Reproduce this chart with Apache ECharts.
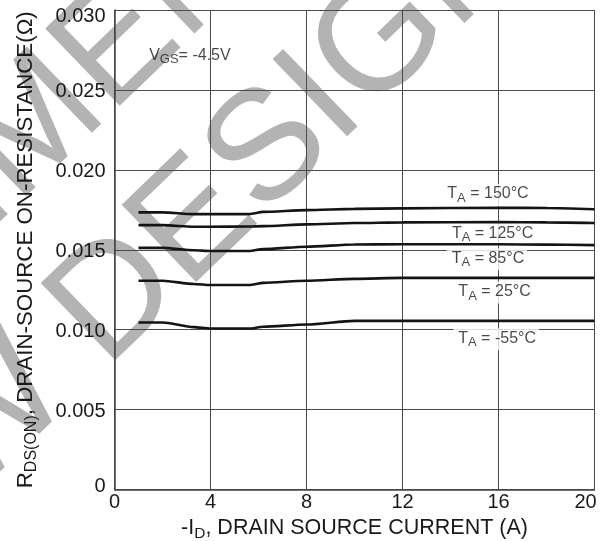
<!DOCTYPE html>
<html>
<head>
<meta charset="utf-8">
<script src="https://cdn.jsdelivr.net/npm/echarts@6/dist/echarts.min.js"></script>
<style>
html,body{margin:0;padding:0;background:#fff;}
#chart{width:610px;height:541px;}
</style>
</head>
<body>
<div id="chart"></div>
<script>
// ---- data ----
const currentA = [1, 2, 3.3, 4, 5.6, 6.2, 8, 10, 12, 16, 18, 20];
const r150 = [0.01734, 0.01734, 0.01723, 0.01723, 0.01723, 0.01737, 0.01748, 0.01756, 0.01759, 0.01763, 0.01761, 0.01753];
const r125 = [0.01654, 0.01654, 0.01644, 0.01644, 0.01645, 0.01648, 0.01659, 0.01667, 0.01671, 0.01673, 0.01671, 0.01667];
const r85  = [0.01512, 0.01512, 0.01497, 0.01492, 0.01492, 0.01504, 0.01519, 0.01533, 0.01534, 0.01534, 0.01532, 0.01529];
const r25  = [0.01306, 0.01306, 0.01286, 0.01279, 0.01279, 0.01293, 0.01306, 0.01318, 0.01324, 0.01324, 0.01324, 0.01324];
const rm55 = [0.01045, 0.01045, 0.01016, 0.01007, 0.01007, 0.01018, 0.01032, 0.01055, 0.01055, 0.01055, 0.01055, 0.01055];
const tempLabels = ['150', '125', '85', '25', '-55'];
const xTickLabels = ['0', '4', '8', '12', '16', '20'];
const yTickLabels = ['0', '0.005', '0.010', '0.015', '0.020', '0.025', '0.030'];

const FONT = '"Liberation Sans", Arial, Helvetica, sans-serif';
const curves = [r150, r125, r85, r25, rm55];

const chart = echarts.init(document.getElementById('chart'), null, {renderer: 'canvas'});

const lineSeries = curves.map((vals, k) => ({
  type: 'line',
  name: 'TA = ' + tempLabels[k] + '°C',
  data: currentA.map((x, i) => [x, vals[i]]),
  showSymbol: false,
  symbol: 'none',
  smooth: 0.25,
  smoothMonotone: 'x',
  lineStyle: {color: '#141414', width: 2.6},
  z: 4,
  silent: true
}));

// label anchor points (chart coordinates)
const anchorX = [15.52, 15.71, 15.52, 15.795, 15.90];
const anchorY = [0.018429, 0.015970, 0.014406, 0.012322, 0.009400];

const labelRich = {
  m: {fontSize: 16, fontFamily: FONT, color: '#1a1a1a', lineHeight: 16, verticalAlign: 'top'},
  s: {fontSize: 13, fontFamily: FONT, color: '#1a1a1a', verticalAlign: 'top', padding: [6, 0, 0, 0]}
};

const annoSeries = {
  type: 'scatter',
  symbolSize: 0,
  z: 3,
  silent: true,
  data: tempLabels.map((t, i) => ({name: t, value: [anchorX[i], anchorY[i]]})),
  label: {
    show: true,
    position: 'inside',
    formatter: p => '{m|T}{s|A}{m| = ' + p.name + '°C}',
    backgroundColor: '#ffffff',
    padding: [2, 3, 1, 5],
    rich: labelRich
  }
};

const vgsSeries = {
  type: 'scatter',
  symbolSize: 0,
  z: 3,
  silent: true,
  data: [{name: '-4.5V', value: [3.10, 0.027106]}],
  label: {
    show: true,
    position: 'inside',
    formatter: p => '{m|V}{s|GS}{m|= ' + p.name + '}',
    padding: [2, 3, 1, 5],
    rich: labelRich
  }
};

const xTitleRich = {
  m: {fontSize: 21.5, fontFamily: FONT, color: '#1a1a1a', verticalAlign: 'middle'},
  s: {fontSize: 15.5, fontFamily: FONT, color: '#1a1a1a', verticalAlign: 'middle', padding: [11, 0, 0, 0]}
};
const yTitleRich = {
  m: {fontSize: 22.3, fontFamily: FONT, color: '#1a1a1a', verticalAlign: 'middle'},
  s: {fontSize: 16, fontFamily: FONT, color: '#1a1a1a', verticalAlign: 'middle', padding: [12, 0, 0, 0]}
};

const tickRich = {
  n: {fontSize: 20, fontFamily: FONT, color: '#1a1a1a', padding: [4, 0, 0, 0]},
  hi: {fontSize: 20, fontFamily: FONT, color: '#1a1a1a', padding: [13, 0, 0, 0]},
  lo: {fontSize: 20, fontFamily: FONT, color: '#1a1a1a', padding: [0, 0, 7, 0]},
  xn: {fontSize: 20, fontFamily: FONT, color: '#1a1a1a'},
  r: {fontSize: 20, fontFamily: FONT, color: '#1a1a1a', padding: [0, 18, 0, 0]}
};

const WM = '#b3b3b3';
const rot = 44 * Math.PI / 180;
const wmFont = 'normal 156px ' + FONT;

const option = {
  backgroundColor: '#ffffff',
  animation: false,
  grid: {left: 114.5, right: 15.5, top: 10, bottom: 51.5, containLabel: false, outerBoundsMode: 'none'},
  graphic: {
    z: -10,
    elements: [
      {type: 'text', x: 76.2, y: 338.2, rotation: rot, silent: true,
        style: {text: 'DESIGN', font: wmFont, fill: WM, align: 'left', verticalAlign: 'middle'}},
      {type: 'text', x: 76.2, y: 338.2, rotation: rot, silent: true,
        style: {text: 'FOR NEW ', font: wmFont, fill: WM, align: 'right', verticalAlign: 'middle'}},
      {type: 'text', x: -12.9, y: 174, rotation: rot, silent: true,
        style: {text: 'MENDED', font: wmFont, fill: WM, align: 'left', verticalAlign: 'middle'}},
      {type: 'text', x: -12.9, y: 174, rotation: rot, silent: true,
        style: {text: 'NOT RECOM', font: wmFont, fill: WM, align: 'right', verticalAlign: 'middle'}}
    ]
  },
  xAxis: {
    type: 'value',
    min: 0, max: 20, interval: 4,
    name: '{m|-I}{s|D}{m|, DRAIN SOURCE CURRENT (A)}',
    nameLocation: 'middle',
    nameGap: 16.5,
    nameTextStyle: {rich: xTitleRich},
    axisLine: {show: true, lineStyle: {color: '#444', width: 1.5}},
    axisTick: {show: false},
    splitLine: {show: true, lineStyle: {color: '#4a4a4a', width: 1}},
    axisLabel: {
      margin: 3,
      formatter: (v) => {
        const idx = Math.round(v / 4);
        const t = xTickLabels[idx];
        return idx === xTickLabels.length - 1 ? '{r|' + t + '}' : '{xn|' + t + '}';
      },
      rich: tickRich
    }
  },
  yAxis: {
    type: 'value',
    min: 0, max: 0.03, interval: 0.005,
    name: '{m|R}{s|DS(ON)}{m|, DRAIN-SOURCE ON-RESISTANCE(Ω)}',
    nameLocation: 'middle',
    nameGap: 74.75,
    nameTextStyle: {rich: yTitleRich},
    axisLine: {show: true, lineStyle: {color: '#444', width: 1.5}},
    axisTick: {show: false},
    splitLine: {show: true, lineStyle: {color: '#4a4a4a', width: 1}},
    axisLabel: {
      margin: 9,
      formatter: (v) => {
        const idx = Math.round(v / 0.005);
        const t = yTickLabels[idx];
        if (idx === 0) return '{lo|' + t + '}';
        if (idx === yTickLabels.length - 1) return '{hi|' + t + '}';
        return '{n|' + t + '}';
      },
      rich: tickRich
    }
  },
  series: lineSeries.concat([annoSeries, vgsSeries])
};

chart.setOption(option);
</script>
</body>
</html>
